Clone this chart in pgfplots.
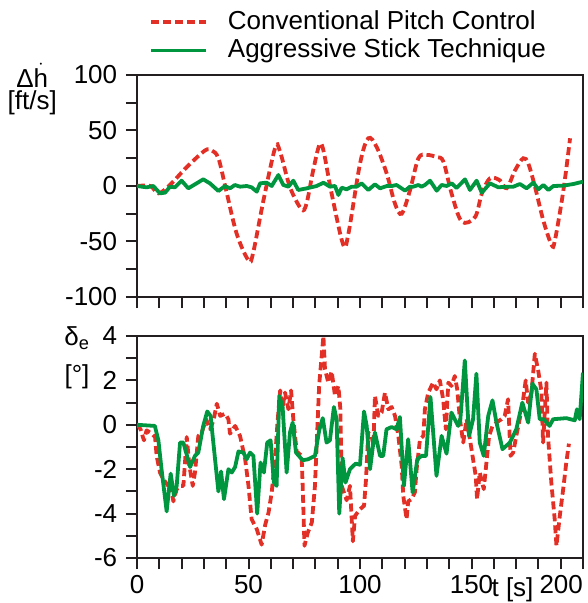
\documentclass[border=0pt]{standalone}
\usepackage{fontspec}
\setmainfont{Liberation Sans}
\usepackage{pgfplots}
\usepackage{pgfplotstable}
\pgfplotsset{compat=1.18}
\definecolor{cred}{RGB}{226,48,38}
\definecolor{cgreen}{RGB}{0,150,64}
\definecolor{caxis}{RGB}{35,31,32}

\pgfplotstableread{
t v
0 0
6 0
9.6 -6.6
14.8 1
22.3 17
30.5 32
33.5 32
36.5 25
40 -4
44.7 -43
50 -67
52 -61
56.7 -13
61.9 34
64 32
68.6 -1
73.8 -21
76 -16
79 14
81.8 37
83.6 32
87.3 -7
92.5 -53
94.8 -43
100 20
103.7 43
107.5 35
112 11
115.7 -16
118.7 -25
122.4 -4
126.2 25
129.9 28
134.4 26
137.4 22
141.1 -7
145.6 -32
151.6 -28
154.6 -7
158.3 7
162.8 5
165.8 -2
169.5 14
173.2 25
175.5 20
178.5 -1
182.2 -31
185.9 -53
187.4 -49
191.2 -4
194.2 43
}\topred

\pgfplotstableread{
t v
0 0
4.3 -1.2
7.3 0
10.3 -6.6
12.6 -6
14.8 -0.6
17.0 -1.2
20.0 4.8
23.0 -2.1
29.7 6
32.7 2.4
36.5 -4.5
39.5 0
41.7 -2.1
43.9 0.9
46.2 -0.6
49.2 0
51.4 -1.2
53.7 -5.1
55.2 2.4
58.1 3
60.4 0
63.4 9.9
65.6 0.9
67.9 -0.6
70.1 4.8
72.3 -3.6
76.1 -2.1
80.6 0
83.6 3
86.5 -0.6
88.8 0
90.3 -8.1
91.8 -1.5
94.0 -3
96.3 -0.6
98.5 -0.6
100.7 2.4
103.7 -3.6
106.7 1.5
109.0 -2.1
112.0 0
114.2 0
116.4 0.9
120.2 -4.2
122.4 -0.6
123.9 -0.6
126.2 0.9
127.6 -0.6
129.1 0.9
131.4 4.8
134.4 -4.2
136.6 0.9
138.9 0
141.1 2.4
143.3 -1.8
147.1 6
149.3 -3.6
152.3 4.8
154.6 -6
158.3 2.4
162.0 -1.2
165.8 -0.6
168.8 -0.6
171.7 1.8
174.7 -2.1
177.7 3
180.0 -3
182.2 0.9
184.5 -3.6
186.7 0
191.2 0.3
195.7 1.8
200 3.9
}\topgreen

\pgfplotstableread{
t v
0 0.03
1.6 -0.2
3.1 -0.7
4.3 -0.25
6.6 -0.4
8.1 -0.55
8.8 -1.4
10.3 -2.15
11.8 -2.45
14 -2.75
14.8 -2.6
16.3 -3.45
17.8 -2.9
19.3 -2.75
20.8 -2.75
22.3 -0.55
23.5 -1.85
25 -2.75
26 -2.15
27.5 -0.5
29 -0.35
31 0.25
32.8 -0.2
34.3 0.2
35.8 0.95
37.3 0.4
39.5 0.5
41 0.25
41.7 -0.4
44 -0.05
46.2 -0.5
48.5 -1.55
50 -2.75
51.4 -4.25
53.7 -4.7
55.9 -5.4
57.5 -4.5
59 -3.95
60.4 -3.05
61.9 -1.55
63 0.1
64.2 1.55
65.3 0.8
66.4 1.45
67.9 0.7
69.1 1.55
70.1 0.25
71.6 -1.2
73.8 -1.4
74.3 -2.75
75.1 -5.45
76.6 -4.85
78.4 -4.4
79.8 -2.75
81.7 1.8
83.6 4
84.3 2.5
85.8 1.9
87.3 2.4
88.8 1.3
90.3 1.75
91.2 0.7
91.8 -2.75
94 -3.4
95.5 -2.75
96.8 -5.25
97.8 -4.1
100 -3.8
101.8 -3.65
102.7 -2.45
103.7 -0.35
105.2 -0.5
106 -0.95
106.7 1.3
108.2 0.4
109.7 0.55
111.2 1.45
112.7 0.7
114.2 0.8
115.7 0.4
117.2 -0.5
118.7 -1.85
119.4 -3.2
120.9 -4.25
121.6 -3.45
123.1 -3.35
124.6 -3.05
125.4 -2
126.9 -0.65
128.4 -0.5
129.1 0.7
130.6 1.45
132.8 1.9
134.3 1.6
135.8 2
137.3 1.15
138.5 -0.2
139.6 1.9
141 1.75
142.5 2.2
143.6 1.6
144.8 0.25
146.3 -0.8
147.8 0.25
149.3 -0.65
150.7 -1.55
151.9 -2.3
152.5 -3.35
153.7 -2.15
155.5 -2.9
156.7 -1.7
157.9 -0.5
159.4 -0.05
161.2 0.1
163.4 0.25
164.9 0.4
166.4 1.15
167.5 -1.4
168.7 -1.25
170.1 -0.5
171.6 0.25
173.1 1.1
174.3 2
175.4 1
176.9 1.45
178.4 3.2
179.9 2.45
181.3 1.55
182.1 -0.8
183.6 1.9
184.3 -0.5
185.8 -2.6
187.3 -4.25
188.1 -5.45
189.6 -4.1
191.3 -2.75
192.5 -1.7
193.7 -0.85
}\botred

\pgfplotstableread{
t v
0 0
8 -0.05
9.6 -0.7
11 -2
13.3 -3.9
15.1 -2.2
16.6 -3.2
17.8 -2.75
19.3 -0.8
20.8 -0.8
23.8 -1.9
26 -1.4
27.5 -1.25
29.7 -0.05
31.5 0.6
33 0.4
35 -1.55
36.5 -3
37.7 -2.1
39 -3.35
41 -2
42.5 -2.15
44 -1.9
45.5 -1.2
47.7 -1.25
49.2 -1.55
50.7 -1.25
52.2 -1.4
53.9 -4
55.4 -1.7
56.9 -2.15
58.4 -0.8
59.9 -0.7
61.4 -2.6
62.6 -2.75
63.8 1.3
65.3 0.8
67.1 -2.15
68.6 -0.35
69.8 0.1
71.3 -1.25
74.3 -1.6
76.8 -1.55
79.8 -1.4
81.7 -0.25
83.3 0.3
85 -0.8
86.5 -0.7
88.3 0.8
89.5 0.25
90.7 -4
92.2 -1.5
93.5 -2.6
95.5 -2.0
98 -1.75
100 -1.8
101.8 0.6
103 -0.05
104.5 -2
106 -0.8
106.7 -0.35
109 -1.4
110.4 -1.4
111.9 -0.2
114.2 -0.1
116.4 -0.2
117.9 0.35
119.7 -2.75
121.6 -0.65
123.6 -3.05
125.7 -1.55
127.6 -1.4
129.6 -1.4
131.6 1.25
134.3 -2.3
136.6 -0.5
138.8 -1.3
141 0.55
144 -0.05
145 0.25
147 2.9
148.9 -0.5
150.7 0.25
152.2 2.3
153.7 -0.8
155.5 -1.4
157.5 0.4
159.4 1.1
161.2 0.1
163.9 -1.1
167.2 -0.8
170.1 -0.2
172.8 1
175.4 0.1
177.3 1.85
179.1 1.6
180.6 0.25
182.4 0.25
185 -0.05
186.6 0.25
192.5 0.3
196.3 0.2
197.3 0.7
198.5 0.25
200 2.35
}\botgreen

\begin{document}
\fontsize{26}{31}\selectfont
\begin{tikzpicture}
\useasboundingbox (0,0) rectangle (587pt,603pt);
\pgfplotsset{
  myax/.style={
    scale only axis, width=446pt, height=222pt,
    xmin=0, xmax=200,
    clip mode=individual,
    axis line style={line width=2pt, caxis},
    every tick/.style={line width=2pt, caxis},
    tick align=outside, major tick length=11pt, minor tick length=11pt,
    tick pos=left,
    xtick={0,50,100,150,200}, minor x tick num=4,
    /pgf/number format/assume math mode=true,
    tick label style={font=\fontsize{26}{31}\selectfont},
    xticklabel shift=-3pt,
    anchor=south west,
  },
  redl/.style={cred, line width=3.8pt, dash pattern=on 8pt off 4pt},
  greenl/.style={cgreen, line width=3.8pt},
}
\begin{axis}[myax, at={(137pt,306pt)},
  ymin=-100, ymax=100, ytick={-100,-50,0,50,100}, minor y tick num=1,
  xticklabels={},
  legend style={draw=none, fill=none, at={(axis description cs:0.02,1.31)}, anchor=north west,
    font=\fontsize{26}{31}\selectfont, row sep=2pt,
    /tikz/every odd column/.append style={column sep=18pt}},
  legend cell align=left,
  legend image code/.code={\draw[#1] (0pt,0pt) -- (55pt,0pt);},
]
\addplot[redl, smooth, tension=0.55] table[x=t,y=v] {\topred};
\addlegendentry{Conventional Pitch Control}
\addplot[greenl, line join=round] table[x=t,y=v] {\topgreen};
\addlegendentry{Aggressive Stick Technique}
\node[inner sep=0pt] at (axis description cs:-0.235,1.0) {Δ$\dot{\hbox{h}}$};
\node[inner sep=0pt] at (axis description cs:-0.235,0.875) {[ft/s]};
\end{axis}
\begin{axis}[myax, at={(137pt,45pt)},
  ymin=-6, ymax=4, ytick={-6,-4,...,4}, minor y tick num=1,
  xticklabels={0,50,100,150,\makebox[87pt][l]{200}},
]
\addplot[redl, line join=round] table[x=t,y=v] {\botred};
\addplot[greenl, line join=round] table[x=t,y=v] {\botgreen};
\node[inner sep=0pt] at (axis description cs:-0.1345,0.99) {δ\textsubscript{e}};
\node[inner sep=0pt] at (axis description cs:-0.1345,0.815) {[°]};
\node[anchor=base] at (axis description cs:0.842,-0.172) {t [s]};
\end{axis}
\end{tikzpicture}
\end{document}
